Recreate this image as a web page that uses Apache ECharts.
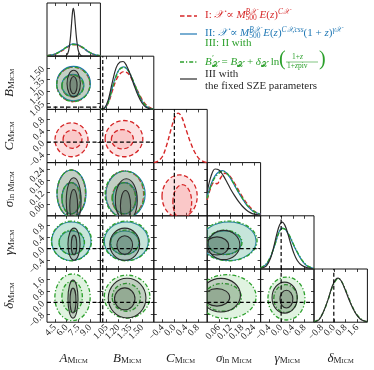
<!DOCTYPE html>
<html>
<head>
<meta charset="utf-8">
<script src="https://cdn.jsdelivr.net/npm/echarts@6/dist/echarts.min.js"></script>
<style>html,body{margin:0;padding:0;background:#fff}#main{width:374px;height:370px}</style>
</head>
<body>
<div id="main"></div>
<script>
// parameter order: A, B, C, sigma, gamma, delta
var axisMin = [3.5, 0.97, -0.7, 0.0, -0.7, -1.35];
var axisMax = [10.3, 1.65, 1.12, 0.273, 1.12, 2.29];
var tickValues = [[4.5, 6.0, 7.5, 9.0], [1.05, 1.2, 1.35, 1.5], [-0.4, 0.0, 0.4, 0.8],
                  [0.06, 0.12, 0.18, 0.24], [-0.4, 0.0, 0.4, 0.8], [-0.8, 0.0, 0.8, 1.6]];
var tickDigits = [1, 2, 1, 2, 1, 1];
var truthValues = [null, 1.0, 0.0, null, 0.0, 0.0];

// which parameters each model has
var paramsI = [0, 1, 2, 3];
var paramsII = [0, 1, 3, 4];
var paramsIII = [0, 1, 3, 4, 5];
var paramsFix = [0, 1, 3, 4, 5];

// 2d contours: [x param, y param, centre x, centre y, half width, half height, level]
var contoursI = [
    [0, 1, 6.85, 1.29, 2.1, 0.22, 0], [0, 1, 6.75, 1.27, 1.35, 0.14, 1],
    [0, 2, 6.62, 0.08, 2.1, 0.58, 0], [0, 2, 6.75, 0.1, 1.2, 0.31, 1],
    [1, 2, 1.27, 0.12, 0.24, 0.62, 0], [1, 2, 1.25, 0.1, 0.14, 0.33, 1],
    [0, 3, 6.6, 0.115, 1.8, 0.12, 0], [0, 3, 6.55, 0.09, 1.15, 0.08, 1],
    [1, 3, 1.28, 0.11, 0.24, 0.12, 0], [1, 3, 1.27, 0.09, 0.15, 0.08, 1],
    [2, 3, 0.18, 0.1, 0.6, 0.11, 0], [2, 3, 0.27, 0.07, 0.32, 0.09, 1]
];
var contoursII = [
    [0, 1, 6.88, 1.3, 2.15, 0.22, 0], [0, 1, 6.8, 1.28, 1.4, 0.14, 1],
    [0, 3, 6.62, 0.115, 1.85, 0.12, 0], [0, 3, 6.6, 0.09, 1.2, 0.08, 1],
    [1, 3, 1.29, 0.11, 0.25, 0.12, 0], [1, 3, 1.28, 0.09, 0.15, 0.08, 1],
    [0, 4, 6.6, 0.25, 2.5, 0.66, 0], [0, 4, 6.65, 0.2, 1.6, 0.4, 1],
    [1, 4, 1.3, 0.25, 0.28, 0.66, 0], [1, 4, 1.28, 0.2, 0.18, 0.4, 1],
    [3, 4, 0.11, 0.25, 0.14, 0.66, 0], [3, 4, 0.09, 0.2, 0.085, 0.4, 1]
];
var contoursIII = [
    [0, 1, 6.86, 1.29, 2.12, 0.22, 0], [0, 1, 6.78, 1.27, 1.38, 0.14, 1],
    [0, 3, 6.6, 0.115, 1.82, 0.12, 0], [0, 3, 6.58, 0.09, 1.18, 0.08, 1],
    [1, 3, 1.28, 0.11, 0.25, 0.12, 0], [1, 3, 1.27, 0.09, 0.15, 0.08, 1],
    [0, 4, 6.62, 0.26, 2.55, 0.68, 0], [0, 4, 6.65, 0.21, 1.62, 0.42, 1],
    [1, 4, 1.3, 0.26, 0.29, 0.68, 0], [1, 4, 1.28, 0.21, 0.18, 0.42, 1],
    [3, 4, 0.11, 0.26, 0.145, 0.68, 0], [3, 4, 0.09, 0.21, 0.088, 0.42, 1],
    [0, 5, 6.75, 0.35, 2.25, 1.6, 0], [0, 5, 6.7, 0.4, 1.3, 1.05, 1],
    [1, 5, 1.31, 0.4, 0.29, 1.47, 0], [1, 5, 1.3, 0.35, 0.18, 0.95, 1],
    [3, 5, 0.1, 0.4, 0.15, 1.5, 0], [3, 5, 0.08, 0.35, 0.095, 0.95, 1],
    [4, 5, 0.18, 0.27, 0.63, 1.47, 0], [4, 5, 0.15, 0.27, 0.4, 0.95, 1]
];
var contoursFix = [
    [0, 1, 6.9, 1.3, 0.85, 0.17, 0], [0, 1, 6.88, 1.28, 0.45, 0.11, 1],
    [0, 3, 6.9, 0.075, 0.95, 0.12, 0], [0, 3, 6.9, 0.05, 0.5, 0.085, 1],
    [1, 3, 1.3, 0.08, 0.14, 0.11, 0], [1, 3, 1.29, 0.05, 0.065, 0.08, 1],
    [0, 4, 6.94, 0.15, 0.77, 0.55, 0], [0, 4, 6.94, 0.12, 0.35, 0.34, 1],
    [1, 4, 1.28, 0.15, 0.19, 0.55, 0], [1, 4, 1.28, 0.12, 0.1, 0.32, 1],
    [3, 4, 0.085, 0.12, 0.082, 0.5, 0], [3, 4, 0.05, 0.09, 0.06, 0.31, 1],
    [0, 5, 6.81, 0.23, 0.64, 1.3, 0], [0, 5, 6.81, 0.13, 0.38, 0.85, 1],
    [1, 5, 1.31, 0.3, 0.24, 1.36, 0], [1, 5, 1.28, 0.25, 0.13, 0.75, 1],
    [3, 5, 0.07, 0.5, 0.1, 1.15, 0], [3, 5, 0.05, 0.35, 0.065, 0.6, 1],
    [4, 5, 0.12, 0.33, 0.43, 1.06, 0], [4, 5, 0.18, 0.23, 0.22, 0.61, 1]
];

// 1d marginals, [value, scaled density]
var aI = [[3.5,0.01],[4.3,0.03],[5.0,0.07],[5.6,0.12],[6.2,0.18],[6.8,0.22],[7.4,0.21],[8.0,0.16],[8.6,0.1],[9.2,0.05],[9.8,0.02],[10.3,0.01]];
var aII = [[3.5,0.01],[4.3,0.03],[5.0,0.08],[5.6,0.13],[6.2,0.19],[6.8,0.23],[7.4,0.22],[8.0,0.17],[8.6,0.1],[9.2,0.05],[9.8,0.02],[10.3,0.01]];
var aIII = [[3.5,0.01],[4.3,0.03],[5.0,0.07],[5.6,0.13],[6.2,0.19],[6.8,0.22],[7.4,0.21],[8.0,0.17],[8.6,0.11],[9.2,0.05],[9.8,0.02],[10.3,0.01]];
var aFix = [[3.5,0],[5.6,0],[6.0,0.02],[6.25,0.1],[6.45,0.3],[6.6,0.56],[6.75,0.83],[6.85,0.9],[6.97,0.82],[7.1,0.6],[7.25,0.35],[7.45,0.13],[7.7,0.03],[8.1,0],[10.3,0]];

var bI = [[0.97,0],[1.02,0.02],[1.07,0.12],[1.12,0.34],[1.17,0.55],[1.22,0.67],[1.27,0.71],[1.32,0.68],[1.37,0.57],[1.42,0.42],[1.47,0.27],[1.52,0.14],[1.57,0.06],[1.62,0.02],[1.65,0.01]];
var bII = [[0.97,0],[1.02,0.02],[1.07,0.14],[1.12,0.4],[1.17,0.64],[1.22,0.77],[1.27,0.8],[1.32,0.74],[1.37,0.59],[1.42,0.41],[1.47,0.24],[1.52,0.11],[1.57,0.04],[1.62,0.01],[1.65,0]];
var bIII = [[0.97,0],[1.02,0.02],[1.07,0.13],[1.12,0.38],[1.17,0.62],[1.22,0.76],[1.27,0.79],[1.32,0.74],[1.37,0.6],[1.42,0.42],[1.47,0.25],[1.52,0.12],[1.57,0.05],[1.62,0.01],[1.65,0]];
var bFix = [[0.97,0],[1.02,0.02],[1.07,0.18],[1.12,0.5],[1.17,0.78],[1.22,0.89],[1.26,0.9],[1.3,0.83],[1.35,0.66],[1.4,0.45],[1.45,0.26],[1.5,0.12],[1.55,0.04],[1.6,0.01],[1.65,0]];

var cI = [[-0.7,0],[-0.55,0.03],[-0.4,0.12],[-0.25,0.35],[-0.1,0.65],[0.02,0.86],[0.13,0.93],[0.25,0.86],[0.4,0.62],[0.55,0.38],[0.7,0.19],[0.85,0.07],[1.0,0.02],[1.12,0]];

var sI = [[0,0.3],[0.02,0.55],[0.035,0.63],[0.05,0.6],[0.07,0.72],[0.09,0.8],[0.11,0.77],[0.13,0.67],[0.15,0.55],[0.17,0.42],[0.19,0.3],[0.21,0.2],[0.23,0.12],[0.25,0.06],[0.273,0.03]];
var sII = [[0,0.36],[0.02,0.6],[0.04,0.75],[0.06,0.83],[0.08,0.85],[0.1,0.8],[0.12,0.7],[0.14,0.57],[0.16,0.44],[0.18,0.32],[0.2,0.21],[0.22,0.13],[0.24,0.07],[0.273,0.03]];
var sIII = [[0,0.33],[0.02,0.57],[0.04,0.72],[0.06,0.8],[0.08,0.84],[0.1,0.8],[0.12,0.71],[0.14,0.58],[0.16,0.45],[0.18,0.33],[0.2,0.22],[0.22,0.14],[0.24,0.08],[0.273,0.03]];
var sFix = [[0,0.45],[0.02,0.75],[0.04,0.88],[0.06,0.86],[0.08,0.77],[0.1,0.64],[0.12,0.5],[0.14,0.38],[0.16,0.27],[0.18,0.18],[0.2,0.11],[0.22,0.06],[0.24,0.03],[0.273,0.01]];

var gII = [[-0.7,0.02],[-0.5,0.09],[-0.35,0.24],[-0.2,0.48],[-0.07,0.7],[0.04,0.77],[0.15,0.74],[0.3,0.6],[0.45,0.42],[0.6,0.26],[0.75,0.13],[0.9,0.05],[1.12,0.01]];
var gIII = [[-0.7,0.02],[-0.5,0.1],[-0.35,0.25],[-0.2,0.48],[-0.07,0.69],[0.04,0.76],[0.15,0.74],[0.3,0.61],[0.45,0.43],[0.6,0.27],[0.75,0.14],[0.9,0.06],[1.12,0.01]];
var gFix = [[-0.7,0.01],[-0.5,0.06],[-0.35,0.22],[-0.25,0.42],[-0.15,0.65],[-0.05,0.83],[0.04,0.88],[0.13,0.82],[0.23,0.66],[0.33,0.47],[0.43,0.3],[0.55,0.16],[0.7,0.07],[0.9,0.02],[1.12,0]];

var dIII = [[-1.35,0.01],[-1.0,0.06],[-0.7,0.2],[-0.4,0.41],[-0.1,0.66],[0.15,0.79],[0.3,0.82],[0.5,0.78],[0.75,0.64],[1.0,0.47],[1.25,0.3],[1.5,0.17],[1.8,0.07],[2.1,0.02],[2.29,0.01]];
var dFix = [[-1.35,0],[-1.0,0.05],[-0.7,0.2],[-0.4,0.42],[-0.1,0.68],[0.15,0.81],[0.3,0.83],[0.5,0.78],[0.75,0.63],[1.0,0.45],[1.25,0.29],[1.5,0.16],[1.8,0.06],[2.1,0.02],[2.29,0.01]];

var serif = "'Liberation Serif', 'DejaVu Serif', serif";

var models = [
    {params: paramsI, contours: contoursI, margs: [aI, bI, cI, sI, null, null],
     color: '#d62728', dash: [4.5, 2.5], width: 1.3, fill: 'rgba(236,80,80,0.17)'},
    {params: paramsII, contours: contoursII, margs: [aII, bII, null, sII, gII, null],
     color: '#1f77b4', dash: null, width: 1.1, fill: 'rgba(40,140,200,0.15)'},
    {params: paramsIII, contours: contoursIII, margs: [aIII, bIII, null, sIII, gIII, dIII],
     color: '#2ca02c', dash: [4, 2, 1.2, 2], width: 1.3, fill: 'rgba(60,180,60,0.16)'},
    {params: paramsFix, contours: contoursFix, margs: [aFix, bFix, null, sFix, gFix, dFix],
     color: '#2b2b2b', dash: null, width: 1.1, fill: 'rgba(60,60,60,0.2)'}
];

var axisTitles = ['{it|A}{s1|M}{s2|ICM}', '{it|B}{s1|M}{s2|ICM}', '{it|C}{s1|M}{s2|ICM}',
                  '{it|σ}{s1|ln M}{s2|ICM}', '{it|γ}{s1|M}{s2|ICM}', '{it|δ}{s1|M}{s2|ICM}'];
var nameStyle = {
    fontFamily: serif, fontSize: 13, color: '#222',
    rich: {
        it: {fontFamily: serif, fontStyle: 'italic', fontSize: 13, color: '#222'},
        s1: {fontFamily: serif, fontSize: 9, color: '#222', verticalAlign: 'bottom', lineHeight: 9},
        s2: {fontFamily: serif, fontSize: 6.5, color: '#222', verticalAlign: 'bottom', lineHeight: 6}
    }
};

function fmt(p) {
    return function (v) {
        var s = v.toFixed(tickDigits[p]);
        return s.charAt(0) === '-' ? '\u2212' + s.slice(1) : s;
    };
}

// every other tick label, so ECharts does not drop overlapping rotated labels
function pick(arr, odd) {
    return arr.filter(function (v, k) { return (k % 2 === 1) === odd; });
}

function makeAxis(p, g, pos, labelVals, isX, withName, withTicks) {
    return {
        type: 'value', gridIndex: g, position: pos, min: axisMin[p], max: axisMax[p],
        splitLine: {show: false}, axisLine: {show: false, onZero: false},
        axisTick: {show: withTicks, inside: true, length: 3, customValues: tickValues[p],
                   lineStyle: {color: '#111', width: 0.8}},
        axisLabel: {show: !!labelVals, customValues: labelVals || tickValues[p], rotate: 45, margin: 4,
                    interval: 0, hideOverlap: false, showMinLabel: true, showMaxLabel: true,
                    fontSize: 9.5, fontFamily: serif, color: '#222', formatter: fmt(p)},
        name: withName ? axisTitles[p] : '', nameLocation: 'middle',
        nameGap: isX ? 30 : 31, nameRotate: isX ? 0 : 90,
        nameTextStyle: nameStyle
    };
}

function hasParam(m, p) { return m.params.indexOf(p) !== -1; }

var gridLeft = 47, gridTop = 3, cellW = 53.4, cellH = 53.2;
var grids = [], xAxes = [], yAxes = [], series = [];
var gridIdx = {};

for (var i = 0; i < 6; i++) {
    for (var j = 0; j <= i; j++) {
        var g = grids.length;
        gridIdx[i + '_' + j] = g;
        grids.push({left: gridLeft + j * cellW, top: gridTop + i * cellH, width: cellW, height: cellH,
                    show: true, borderColor: '#111', borderWidth: 1, backgroundColor: 'transparent'});
        var diag = (i === j);
        xAxes.push(makeAxis(j, g, 'bottom', i === 5 ? pick(tickValues[j], false) : null, true, i === 5, true));
        xAxes.push(makeAxis(j, g, 'top', null, true, false, true));
        if (diag) {
            yAxes.push({type: 'value', gridIndex: g, min: 0, max: 1, show: false});
            yAxes.push({type: 'value', gridIndex: g, min: 0, max: 1, show: false});
        } else {
            yAxes.push(makeAxis(i, g, 'left', j === 0 ? pick(tickValues[i], false) : null, false, j === 0, true));
            yAxes.push(makeAxis(i, g, 'right', null, false, false, true));
        }
    }
}

// overlay grids carrying the remaining tick labels
var nMain = grids.length;
for (var j = 0; j < 6; j++) {
    var g = grids.length;
    grids.push({left: gridLeft + j * cellW, top: gridTop + 5 * cellH, width: cellW, height: cellH, show: false});
    xAxes.push(makeAxis(j, g, 'bottom', pick(tickValues[j], true), true, false, false));
    yAxes.push({type: 'value', gridIndex: g, min: 0, max: 1, show: false});
}
for (var i = 1; i < 6; i++) {
    var g = grids.length;
    grids.push({left: gridLeft, top: gridTop + i * cellH, width: cellW, height: cellH, show: false});
    xAxes.push({type: 'value', gridIndex: g, min: 0, max: 1, show: false});
    yAxes.push(makeAxis(i, g, 'left', pick(tickValues[i], true), false, false, false));
}

function contourRender(m) {
    return function (params, api) {
        var c = api.coord([api.value(0), api.value(1)]);
        var e = api.coord([api.value(0) + api.value(2), api.value(1) + api.value(3)]);
        return {
            type: 'ellipse',
            shape: {cx: c[0], cy: c[1], rx: Math.abs(e[0] - c[0]), ry: Math.abs(e[1] - c[1])},
            style: {fill: m.fill, stroke: m.color, lineWidth: m.width, lineDash: m.dash}
        };
    };
}

// 2d contours
models.forEach(function (m) {
    var byPanel = {};
    m.contours.forEach(function (c) {
        var key = c[1] + '_' + c[0];
        if (!byPanel[key]) byPanel[key] = [];
        byPanel[key].push([c[2], c[3], c[4], c[5], c[6]]);
    });
    Object.keys(byPanel).forEach(function (key) {
        var g = gridIdx[key];
        series.push({
            type: 'custom', xAxisIndex: 2 * g, yAxisIndex: 2 * g, clip: true, silent: true,
            renderItem: contourRender(m), data: byPanel[key], z: 2
        });
    });
});

// 1d marginals
models.forEach(function (m) {
    m.margs.forEach(function (d, p) {
        if (!d) return;
        var g = gridIdx[p + '_' + p];
        series.push({
            type: 'line', xAxisIndex: 2 * g, yAxisIndex: 2 * g, data: d, smooth: 0.35,
            symbol: 'none', silent: true, clip: true, z: 3,
            lineStyle: {color: m.color, width: m.width + 0.1, type: m.dash || 'solid'}
        });
    });
});

// truth lines
for (var i = 0; i < 6; i++) {
    for (var j = 0; j <= i; j++) {
        var g = gridIdx[i + '_' + j];
        var diag = (i === j);
        var used = models.some(function (m) { return hasParam(m, i) && hasParam(m, j); });
        if (!used) continue;
        var lines = [];
        if (truthValues[j] !== null) {
            lines.push(diag ? [[truthValues[j], 0], [truthValues[j], 1]]
                            : [[truthValues[j], axisMin[i]], [truthValues[j], axisMax[i]]]);
        }
        if (!diag && truthValues[i] !== null) {
            lines.push([[axisMin[j], truthValues[i]], [axisMax[j], truthValues[i]]]);
        }
        lines.forEach(function (d) {
            series.push({
                type: 'line', xAxisIndex: 2 * g, yAxisIndex: 2 * g, data: d, symbol: 'none',
                silent: true, z: 4, lineStyle: {color: '#000', width: 1.2, type: [4, 2.5]}
            });
        });
    }
}

var legRich = {
    n: {fontFamily: serif, fontSize: 11, lineHeight: 14},
    i: {fontFamily: serif, fontSize: 11, fontStyle: 'italic', lineHeight: 14},
    p: {fontFamily: serif, fontSize: 7.5, fontStyle: 'italic', verticalAlign: 'top', lineHeight: 8},
    p0: {fontFamily: serif, fontSize: 7.5, fontStyle: 'italic', verticalAlign: 'top', lineHeight: 8, width: 0},
    b: {fontFamily: serif, fontSize: 7.5, verticalAlign: 'bottom', lineHeight: 8}
};
function legText(left, top, text, color) {
    var rich = {};
    Object.keys(legRich).forEach(function (k) {
        rich[k] = Object.assign({fill: color}, legRich[k]);
    });
    return {type: 'text', left: left, top: top, z: 10,
            style: {text: text, fill: color, rich: rich, font: '11px ' + serif}};
}
function legLine(y, color, dash, w) {
    return {type: 'line', z: 10, shape: {x1: 180, y1: y, x2: 197, y2: y},
            style: {stroke: color, lineWidth: w, lineDash: dash}};
}

var graphics = [
    legLine(16, '#d62728', [4.5, 2.5], 1.3),
    legLine(34, '#1f77b4', null, 1.2),
    legLine(62, '#2ca02c', [4, 2, 1.2, 2], 1.3),
    legLine(79, '#2b2b2b', null, 1.2),
    legText(205, 8, '{n|I: }{i|𝒳}{n| ∝ }{i|M}{p0|B𝒳}{b|500}{i| E}{n|(}{i|z}{n|)}{p|C𝒳}', '#d62728'),
    legText(205, 26, '{n|II: }{i|𝒳}{n| ∝ }{i|M}{p0|B𝒳}{b|500}{i| E}{n|(}{i|z}{n|)}{p|C𝒳,css}{n|(1 + }{i|z}{n|)}{p|γ𝒳}', '#1f77b4'),
    legText(205, 38, '{n|III: II with}', '#2ca02c'),
    legText(205, 55, "{i|B}{p0|′}{b|𝒳}{n| = }{i|B}{b|𝒳}{n| + }{i|δ}{b|𝒳}{n| ln}", '#2ca02c'),
    {type: 'text', left: 279, top: 50, z: 10, style: {text: '(', fill: '#2ca02c', font: '20px ' + serif}},
    {type: 'text', left: 319, top: 50, z: 10, style: {text: ')', fill: '#2ca02c', font: '20px ' + serif}},
    legText(292, 53, '{b|1+}{p|z}', '#2ca02c'),
    {type: 'line', z: 10, shape: {x1: 286, y1: 62, x2: 318, y2: 62}, style: {stroke: '#2ca02c', lineWidth: 0.6}},
    legText(287, 62, '{b|1+}{p|z}{b|piv}', '#2ca02c'),
    legText(205, 69, '{n|III with}', '#2b2b2b'),
    legText(205, 81, '{n|the fixed SZE parameters}', '#2b2b2b')
];

var chart = echarts.init(document.getElementById('main'));
chart.setOption({
    animation: false,
    grid: grids,
    xAxis: xAxes,
    yAxis: yAxes,
    series: series,
    graphic: graphics
});
</script>
</body>
</html>
